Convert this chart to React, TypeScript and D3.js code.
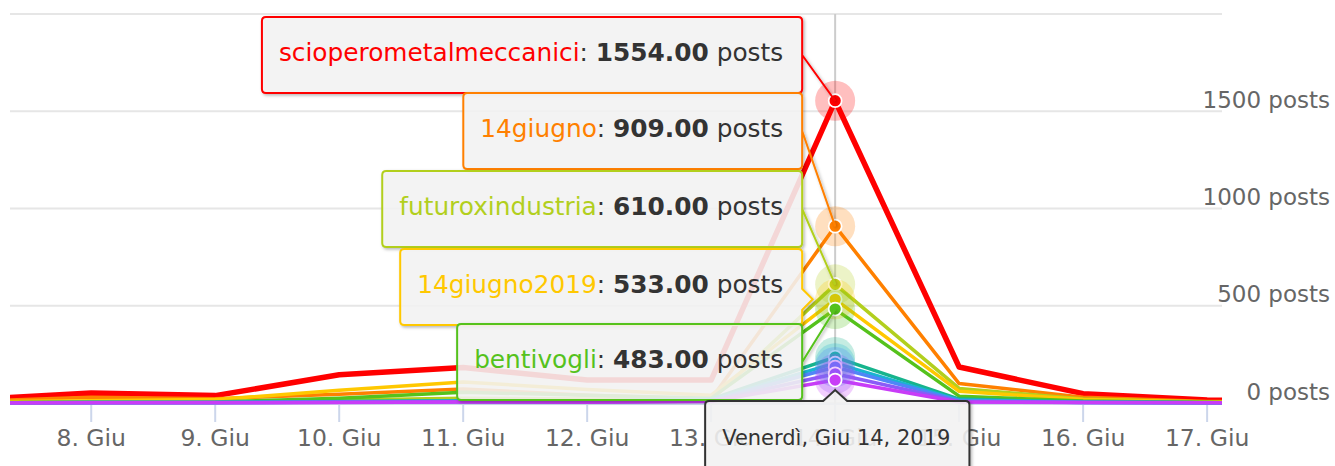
import React, { useEffect, useRef } from 'react';
import * as d3 from 'd3';

// giorni di giugno 2019 (7 e 18 restano fuori dall'area visibile)
const days = [7, 8, 9, 10, 11, 12, 13, 14, 15, 16, 17, 18];
const tickDays = [8, 9, 10, 11, 12, 13, 14, 15, 16, 17];
const yTicks = [0, 500, 1000, 1500, 2000];
const yLabelTicks = [0, 500, 1000, 1500];

const seriesNames = [
  'scioperometalmeccanici',
  '14giugno',
  'futuroxindustria',
  '14giugno2019',
  'bentivogli',
  'serie6',
  'serie7',
  'serie8',
  'serie9',
  'serie10',
];

const seriesColors = [
  '#ff0000',
  '#ff8000',
  '#b2cf1e',
  '#ffc800',
  '#55c21c',
  '#17b48c',
  '#1ab4d0',
  '#4f86f7',
  '#8a5cf7',
  '#c83cf7',
];

const scioperometalmeccanici = [15, 52, 38, 145, 182, 118, 118, 1554, 185, 48, 15, 5];
const giugno14 = [8, 30, 22, 45, 72, 40, 20, 909, 100, 30, 8, 3];
const futuroxindustria = [3, 5, 5, 15, 25, 20, 15, 610, 75, 20, 5, 2];
const giugno2019 = [5, 12, 18, 65, 108, 70, 40, 533, 60, 18, 5, 2];
const bentivogli = [2, 4, 5, 25, 55, 40, 25, 483, 35, 10, 3, 1];
const serie6 = [1, 2, 3, 8, 12, 10, 20, 236, 20, 5, 2, 1];
const serie7 = [1, 2, 2, 6, 10, 8, 15, 205, 15, 4, 1, 1];
const serie8 = [1, 2, 2, 5, 8, 6, 12, 185, 12, 3, 1, 1];
const serie9 = [1, 1, 2, 4, 6, 5, 10, 150, 8, 2, 1, 0];
const serie10 = [0, 1, 1, 3, 5, 4, 8, 118, 5, 2, 1, 0];

const seriesValues = [
  scioperometalmeccanici, giugno14, futuroxindustria, giugno2019, bentivogli,
  serie6, serie7, serie8, serie9, serie10,
];

const hoverDay = 14;
const headerText = 'Venerdì, Giu 14, 2019';
const tooltipCount = 5;

// callout come in Highcharts: connettore semplice o chevron
function calloutPath(x: number, y: number, w: number, h: number, r: number, ax: number, ay: number, arrow: number, half: number) {
  const safe = r + half;
  const p: string[] = [];
  p.push(`M${x + r},${y}`);
  if (ay < y && ax > x + safe && ax < x + w - safe) {
    p.push(`L${ax - half},${y}L${ax},${y - arrow}L${ax + half},${y}`);
  }
  p.push(`L${x + w - r},${y}Q${x + w},${y} ${x + w},${y + r}`);
  if (ax > x + w) {
    if (ay > y + safe && ay < y + h - safe) {
      p.push(`L${x + w},${ay - half}L${x + w + arrow},${ay}L${x + w},${ay + half}`);
    } else {
      p.push(`L${x + w},${y + h / 2}L${ax},${ay}L${x + w},${y + h / 2}`);
    }
  }
  p.push(`L${x + w},${y + h - r}Q${x + w},${y + h} ${x + w - r},${y + h}`);
  p.push(`L${x + r},${y + h}Q${x},${y + h} ${x},${y + h - r}`);
  p.push(`L${x},${y + r}Q${x},${y} ${x + r},${y}Z`);
  return p.join('');
}

const App = () => {
  const svgRef = useRef<SVGSVGElement>(null);

  useEffect(() => {
    const width = 1335;
    const height = 466;
    const left = 10;
    const right = 1222;
    const font = '"DejaVu Sans", Verdana, sans-serif';

    const svg = d3.select(svgRef.current);
    svg.selectAll('*').remove();

    const x = d3.scaleLinear().domain([7.345, 17.12]).range([left, right]);
    const y = d3.scaleLinear().domain([0, 2000]).range([403, 14]);

    const defs = svg.append('defs');
    defs.append('clipPath').attr('id', 'plot-clip')
      .append('rect').attr('x', left).attr('y', 0).attr('width', right - left).attr('height', 420);
    const shadow = defs.append('filter').attr('id', 'tip-shadow')
      .attr('x', '-10%').attr('y', '-20%').attr('width', '120%').attr('height', '150%');
    shadow.append('feDropShadow')
      .attr('dx', 1.5).attr('dy', 1.5).attr('stdDeviation', 1.5)
      .attr('flood-color', '#000').attr('flood-opacity', 0.3);

    svg.append('rect').attr('width', width).attr('height', height).attr('fill', '#fff');

    // griglia orizzontale
    svg.append('g').selectAll('line')
      .data(yTicks)
      .join('line')
      .attr('x1', left).attr('x2', right)
      .attr('y1', d => y(d)).attr('y2', d => y(d))
      .attr('stroke', '#e6e6e6').attr('stroke-width', 2);

    // etichette asse y a destra
    svg.append('g').selectAll('text')
      .data(yLabelTicks)
      .join('text')
      .attr('x', 1330)
      .attr('y', d => y(d) - 3.5)
      .attr('text-anchor', 'end')
      .attr('fill', '#666')
      .style('font-family', font)
      .style('font-size', '23px')
      .text(d => `${d} posts`);

    // asse x
    svg.append('line')
      .attr('x1', left).attr('x2', right).attr('y1', 404).attr('y2', 404)
      .attr('stroke', '#ccd6eb').attr('stroke-width', 2);
    svg.append('g').selectAll('line')
      .data(tickDays)
      .join('line')
      .attr('x1', d => x(d)).attr('x2', d => x(d))
      .attr('y1', 404).attr('y2', 422)
      .attr('stroke', '#ccd6eb').attr('stroke-width', 2);
    svg.append('g').selectAll('text')
      .data(tickDays)
      .join('text')
      .attr('x', d => x(d))
      .attr('y', 446)
      .attr('text-anchor', 'middle')
      .attr('fill', '#666')
      .style('font-family', font)
      .style('font-size', '23.5px')
      .text(d => `${d}. Giu`);

    // crosshair
    svg.append('line')
      .attr('x1', x(hoverDay)).attr('x2', x(hoverDay))
      .attr('y1', 14).attr('y2', 404)
      .attr('stroke', '#cccccc').attr('stroke-width', 2);

    // linee
    const line = d3.line<number>()
      .x((_, i) => x(days[i]))
      .y(d => y(d));
    const plot = svg.append('g').attr('clip-path', 'url(#plot-clip)');
    seriesValues.forEach((vals, i) => {
      plot.append('path')
        .attr('d', line(vals))
        .attr('fill', 'none')
        .attr('stroke', seriesColors[i])
        .attr('stroke-width', i === 0 ? 5.5 : 3.5)
        .attr('stroke-linejoin', 'round')
        .attr('stroke-linecap', 'round');
    });

    // alone + marker sul punto attivo
    const hi = days.indexOf(hoverDay);
    seriesValues.forEach((vals, i) => {
      const g = svg.append('g');
      g.append('circle')
        .attr('cx', x(hoverDay)).attr('cy', y(vals[hi])).attr('r', 20)
        .attr('fill', seriesColors[i]).attr('opacity', 0.25);
      g.append('circle')
        .attr('cx', x(hoverDay)).attr('cy', y(vals[hi])).attr('r', 6.5)
        .attr('fill', seriesColors[i])
        .attr('stroke', '#fff').attr('stroke-width', 1.75);
    });

    // tooltip divisi
    const boxRight = x(hoverDay) - 33;
    const boxTops = [17, 93, 171, 249, 324];
    const boxH = 76;
    const padX = 17;
    for (let i = 0; i < tooltipCount; i++) {
      const g = svg.append('g');
      const path = g.append('path');
      const txt = g.append('text')
        .attr('y', boxTops[i] + 44)
        .style('font-family', font)
        .style('font-size', '24.8px')
        .attr('fill', '#333');
      txt.append('tspan').attr('fill', seriesColors[i]).text(seriesNames[i]);
      txt.append('tspan').text(': ');
      txt.append('tspan').attr('font-weight', 'bold').text(d3.format('.2f')(seriesValues[i][hi]));
      txt.append('tspan').text(' posts');
      const tw = (txt.node() as SVGTextElement).getComputedTextLength();
      const w = tw + padX * 2 + 2;
      const bx = boxRight - w;
      txt.attr('x', bx + padX);
      path
        .attr('d', calloutPath(bx, boxTops[i], w, boxH, 4, x(hoverDay), y(seriesValues[i][hi]), 10.5, 10.5))
        .attr('fill', 'rgba(247,247,247,0.85)')
        .attr('stroke', seriesColors[i])
        .attr('stroke-width', 2)
        .attr('filter', 'url(#tip-shadow)');
    }

    // intestazione data
    const hg = svg.append('g');
    const hpath = hg.append('path');
    const htxt = hg.append('text')
      .attr('y', 445)
      .attr('fill', '#333')
      .style('font-family', font)
      .style('font-size', '21px')
      .text(headerText);
    const hw = (htxt.node() as SVGTextElement).getComputedTextLength() + 36;
    const hx = x(hoverDay) - 130;
    htxt.attr('x', hx + 17);
    hpath
      .attr('d', calloutPath(hx, 401, hw, 80, 4, x(hoverDay), 390, 11, 12))
      .attr('fill', 'rgba(247,247,247,0.85)')
      .attr('stroke', '#333')
      .attr('stroke-width', 2)
      .attr('filter', 'url(#tip-shadow)');
  }, []);

  return (
    <svg
      ref={svgRef}
      width={1335}
      height={466}
      style={{ position: 'absolute', left: 0, top: 0, display: 'block' }}
    />
  );
};

export default App;
